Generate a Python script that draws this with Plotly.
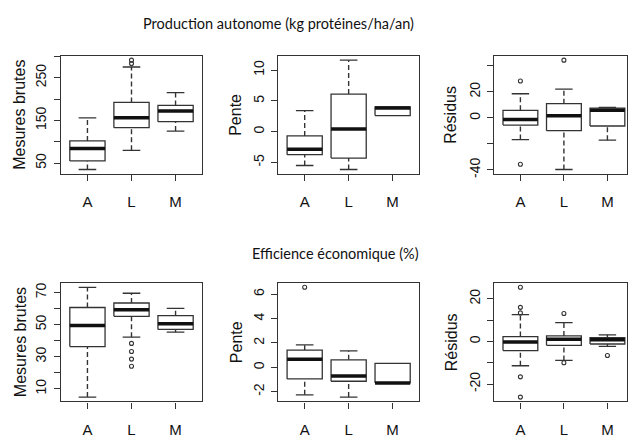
import plotly.graph_objects as go

W, H = 628, 438

groups = ["A", "L", "M"]

# Box statistics per panel: [lower whisker, Q1, median, Q3, upper whisker] for A, L, M
p1_stats = [[35, 55, 84, 102, 156], [80, 133, 156, 192, 275], [125, 147, 172, 185, 215]]
p1_out = [[], [283, 291], []]
p2_stats = [[-5.5, -3.75, -2.85, -0.7, 3.4], [-6.15, -4.3, 0.43, 6.1, 11.6], [2.6, 2.6, 3.85, 4.0, 4.0]]
p2_out = [[], [], []]
p3_stats = [[-16.7, -5.6, -1.3, 5.8, 18.5], [-39.7, -9.9, 1.5, 10.9, 22.0], [-17.2, -6.3, 5.8, 7.4, 8.0]]
p3_out = [[28.3, -35.7], [44.3], []]
p4_stats = [[4.8, 36.3, 49.4, 60.7, 73.3], [42.2, 55.2, 59.3, 63.5, 69.6], [45.3, 47.0, 50.6, 55.6, 60.1]]
p4_out = [[], [38.3, 33.2, 28.5, 24.0], []]
p5_stats = [[-2.25, -0.95, 0.67, 1.41, 1.84], [-2.44, -1.14, -0.71, 0.62, 1.35], [-1.28, -1.28, -1.28, 0.33, 0.33]]
p5_out = [[6.57], [], []]
p6_stats = [[-11.4, -4.3, -0.3, 2.3, 12.6], [-8.9, -1.8, 1.0, 2.6, 8.8], [-2.3, -1.2, 0.8, 1.8, 3.1]]
p6_out = [[25.4, 16.0, 13.4, -16.6, -26.1], [13.1, -10.0], [-6.6]]

# tick values and labels (blank = unlabeled tick, as R drops overlapping labels)
p1_ticks = [50, 100, 150, 200, 250, 300]
p1_labels = ["50", "", "150", "", "250", ""]
p2_ticks = [-5, 0, 5, 10]
p2_labels = ["-5", "0", "5", "10"]
p3_ticks = [-40, -20, 0, 20, 40]
p3_labels = ["-40", "", "0", "20", ""]
p4_ticks = [10, 20, 30, 40, 50, 60, 70]
p4_labels = ["10", "", "30", "", "50", "", "70"]
p5_ticks = [-2, 0, 2, 4, 6]
p5_labels = ["-2", "0", "2", "4", "6"]
p6_ticks = [-20, -10, 0, 10, 20]
p6_labels = ["-20", "", "0", "", "20"]

y_titles = ["Mesures brutes", "Pente", "Résidus", "Mesures brutes", "Pente", "Résidus"]
title_top = "Production autonome (kg protéines/ha/an)"
title_bottom = "Efficience économique (%)"

panels = [
    (p1_stats, p1_out, p1_ticks, p1_labels),
    (p2_stats, p2_out, p2_ticks, p2_labels),
    (p3_stats, p3_out, p3_ticks, p3_labels),
    (p4_stats, p4_out, p4_ticks, p4_labels),
    (p5_stats, p5_out, p5_ticks, p5_labels),
    (p6_stats, p6_out, p6_ticks, p6_labels),
]

# layout geometry in pixels
col_px = [(61, 202), (278.3, 419), (494.3, 627)]
row_px = [(56.7, 176.7), (287.5, 408)]
col_xrange = [[0.4, 3.6], [0.4, 3.6], [0.4, 3.45]]
ytitle_x = [20, 236, 451]

LINE = "#333333"
FONT = "Liberation Sans, Arial, sans-serif"

fig = go.Figure()
layout = dict(
    width=W, height=H, margin=dict(l=0, r=0, t=0, b=0),
    paper_bgcolor="white", plot_bgcolor="white", showlegend=False,
)
annotations = []

for k, (stats, outs, tv, tt) in enumerate(panels):
    r, c = divmod(k, 3)
    xa = "x" if k == 0 else f"x{k+1}"
    ya = "y" if k == 0 else f"y{k+1}"
    bx, by, mx, my, wx, wy, sx, sy, ox, oy = [], [], [], [], [], [], [], [], [], []
    for i, (lo, q1, med, q3, hi) in enumerate(stats):
        p = i + 1
        bx += [p - 0.4, p + 0.4, p + 0.4, p - 0.4, p - 0.4, None]
        by += [q1, q1, q3, q3, q1, None]
        mx += [p - 0.4, p + 0.4, None]
        my += [med, med, None]
        if hi > q3:
            wx += [p, p, None]
            wy += [q3, hi, None]
            sx += [p - 0.2, p + 0.2, None]
            sy += [hi, hi, None]
        if lo < q1:
            wx += [p, p, None]
            wy += [lo, q1, None]
            sx += [p - 0.2, p + 0.2, None]
            sy += [lo, lo, None]
        for v in outs[i]:
            ox.append(p)
            oy.append(v)
    common = dict(xaxis=xa, yaxis=ya, hoverinfo="skip", mode="lines")
    fig.add_trace(go.Scatter(x=wx, y=wy, line=dict(color=LINE, width=1.4, dash="5px,3px"), **common))
    fig.add_trace(go.Scatter(x=sx, y=sy, line=dict(color=LINE, width=1.3), **common))
    fig.add_trace(go.Scatter(x=bx, y=by, fill="toself", fillcolor="white", line=dict(color=LINE, width=1.3), **common))
    fig.add_trace(go.Scatter(x=mx, y=my, line=dict(color="#111111", width=3.5), **common))
    if ox:
        fig.add_trace(go.Scatter(x=ox, y=oy, xaxis=xa, yaxis=ya, mode="markers", hoverinfo="skip",
                                 marker=dict(symbol="circle-open", size=4, color=LINE, line=dict(width=1.1))))
    allv = [v for s in stats for v in s] + [v for o in outs for v in o]
    lo_all, hi_all = min(allv), max(allv)
    ext = 0.04 * (hi_all - lo_all)
    x0, x1 = col_px[c]
    y0, y1 = row_px[r]
    xd = [x0 / W, x1 / W]
    yd = [1 - y1 / H, 1 - y0 / H]
    layout["xaxis" if k == 0 else f"xaxis{k+1}"] = dict(
        domain=xd, range=col_xrange[c], anchor=ya, tickvals=[1, 2, 3], ticktext=groups,
        ticks="outside", ticklen=6, tickwidth=1.2, tickcolor=LINE, ticklabelstandoff=8,
        showline=True, linecolor=LINE, linewidth=1.3, mirror=True, showgrid=False, zeroline=False,
        tickfont=dict(family=FONT, size=15, color="#111111"), fixedrange=True,
    )
    layout["yaxis" if k == 0 else f"yaxis{k+1}"] = dict(
        domain=yd, range=[lo_all - ext, hi_all + ext], anchor=xa, tickvals=tv, ticktext=tt,
        ticks="outside", ticklen=6, tickwidth=1.2, tickcolor=LINE, tickangle=-90, ticklabelstandoff=2,
        showline=True, linecolor=LINE, linewidth=1.3, mirror=True, showgrid=False, zeroline=False,
        tickfont=dict(family=FONT, size=14, color="#111111"), fixedrange=True,
    )
    annotations.append(dict(
        text=y_titles[k], xref="paper", yref="paper", x=ytitle_x[c] / W, y=(yd[0] + yd[1]) / 2,
        textangle=-90, showarrow=False, xanchor="center", yanchor="middle",
        font=dict(family=FONT, size=16, color="#111111"),
    ))

annotations.append(dict(text=title_top, xref="paper", yref="paper", x=278.5 / W, y=1 - 24 / H,
                        showarrow=False, xanchor="center", yanchor="middle",
                        font=dict(family="Lato, sans-serif", size=14.5, color="#111111")))
annotations.append(dict(text=title_bottom, xref="paper", yref="paper", x=335 / W, y=1 - 258 / H,
                        showarrow=False, xanchor="center", yanchor="middle",
                        font=dict(family="Lato, sans-serif", size=14.5, color="#111111")))
layout["annotations"] = annotations
fig.update_layout(**layout)
fig.write_html("out.html")
